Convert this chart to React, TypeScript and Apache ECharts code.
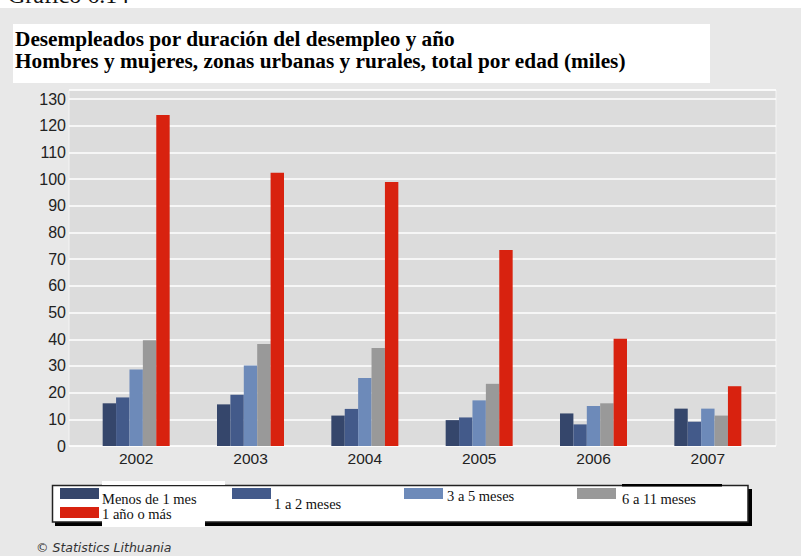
import React, { useEffect, useRef } from "react";
import * as echarts from "echarts";

const years = ["2002", "2003", "2004", "2005", "2006", "2007"];
const seriesNames = ["Menos de 1 mes", "1 a 2 meses", "3 a 5 meses", "6 a 11 meses", "1 año o más"];
const seriesColors = ["#35466b", "#435a8a", "#6d8ab9", "#999999", "#d8220f"];
const menos1mes = [16.0, 15.6, 11.4, 9.7, 12.2, 14.0];
const de1a2 = [18.2, 19.2, 13.9, 10.7, 8.1, 9.1];
const de3a5 = [28.7, 30.2, 25.5, 17.1, 15.0, 14.0];
const de6a11 = [39.6, 38.2, 36.7, 23.3, 16.0, 11.4];
const unAnoOMas = [124.0, 102.4, 98.9, 73.4, 40.2, 22.4];
const seriesValues = [menos1mes, de1a2, de3a5, de6a11, unAnoOMas];

const titleLines = [
  "Desempleados por duración del desempleo y año",
  "Hombres y mujeres, zonas urbanas y rurales, total por edad (miles)",
];
const chartLabel = "Gráfico 6.14";
const sourceText = "© Statistics Lithuania";

// legend layout: [swatchX, swatchY, textX, textY]
const legendPos = [
  [60, 488, 102, 498.5],
  [232, 488, 274, 504],
  [404, 488, 447, 496],
  [577, 488, 622, 499],
  [60, 507, 102, 513.5],
];

const SERIF = '"Liberation Serif", "Times New Roman", serif';
const SANS = '"Liberation Sans", Arial, sans-serif';

export default function App() {
  const ref = useRef<HTMLDivElement>(null);
  useEffect(() => {
    if (!ref.current) return;
    const chart = echarts.init(ref.current, null, { renderer: "svg" });
    const yMax = 133.4;
    const legendEls: any[] = [];
    legendEls.push({ type: "rect", shape: { x: 55, y: 489, width: 697, height: 37 }, style: { fill: "#000" } });
    legendEls.push({ type: "rect", shape: { x: 52.5, y: 485.5, width: 695.5, height: 36.5 }, style: { fill: "#fff", stroke: "#222", lineWidth: 1.5 } });
    legendEls.push({ type: "rect", shape: { x: 102, y: 481, width: 123, height: 4 }, style: { fill: "#fff" } });
    legendEls.push({ type: "rect", shape: { x: 102, y: 506, width: 103, height: 21 }, style: { fill: "#fff" } });
    legendEls.push({ type: "rect", shape: { x: 622, y: 484, width: 100, height: 2.5 }, style: { fill: "#000" } });
    seriesNames.forEach((name, i) => {
      const p = legendPos[i];
      legendEls.push({ type: "rect", shape: { x: p[0], y: p[1], width: 39, height: 11 }, style: { fill: seriesColors[i] } });
      legendEls.push({
        type: "text",
        x: p[2],
        y: p[3],
        style: { text: name, fontSize: 14.5, fontFamily: SERIF, fill: "#111", align: "left", verticalAlign: "middle" },
      });
    });

    chart.setOption({
      animation: false,
      backgroundColor: "#e8e8e8",
      grid: [
        { left: 69, top: 90, width: 707, height: 356, show: true, backgroundColor: "#dcdcdc", borderColor: "#f4f4f4", borderWidth: 1 },
        { left: 79, top: 90, width: 686, height: 356 },
      ],
      xAxis: [
        { gridIndex: 0, type: "value", min: 0, max: 1, show: false },
        {
          gridIndex: 1,
          type: "category",
          data: years,
          axisLine: { show: false },
          axisTick: { show: false },
          axisLabel: { fontSize: 15.5, fontFamily: SANS, color: "#222", margin: 4 },
        },
      ],
      yAxis: [
        {
          gridIndex: 0,
          type: "value",
          min: 0,
          max: yMax,
          interval: 10,
          axisLine: { show: false },
          axisTick: { show: false },
          axisLabel: { fontSize: 16, fontFamily: SANS, color: "#222", margin: 3, showMaxLabel: false },
          splitLine: { lineStyle: { color: "#ffffff", width: 1.5 } },
        },
        { gridIndex: 1, type: "value", min: 0, max: yMax, show: false, splitLine: { show: false } },
      ],
      series: seriesNames.map((name, i) => ({
        name,
        type: "bar",
        xAxisIndex: 1,
        yAxisIndex: 1,
        data: seriesValues[i],
        barWidth: 13.4,
        barGap: "0%",
        itemStyle: { color: seriesColors[i] },
      })),
      graphic: {
        elements: [
          { type: "rect", shape: { x: 0, y: 0, width: 801, height: 8 }, style: { fill: "#fff" } },
          {
            type: "text",
            x: 8,
            y: -5,
            style: { text: chartLabel, fontSize: 24, fontFamily: SERIF, fill: "#111", align: "left", verticalAlign: "middle" },
          },
          { type: "rect", shape: { x: 13, y: 24, width: 697, height: 59 }, style: { fill: "#fff" } },
          {
            type: "text",
            x: 15,
            y: 38.5,
            style: { text: titleLines[0], fontSize: 21.3, fontWeight: "bold", fontFamily: SERIF, fill: "#000", align: "left", verticalAlign: "middle" },
          },
          {
            type: "text",
            x: 15,
            y: 61,
            style: { text: titleLines[1], fontSize: 21.3, fontWeight: "bold", fontFamily: SERIF, fill: "#000", align: "left", verticalAlign: "middle" },
          },
          ...legendEls,
          {
            type: "text",
            x: 36,
            y: 547,
            style: { text: sourceText, fontSize: 12.5, fontStyle: "italic", fontFamily: '"DejaVu Sans", sans-serif', fill: "#333", align: "left", verticalAlign: "middle" },
          },
        ],
      },
    });
    return () => chart.dispose();
  }, []);
  return <div ref={ref} style={{ position: "fixed", left: 0, top: 0, width: 801, height: 556 }} />;
}
